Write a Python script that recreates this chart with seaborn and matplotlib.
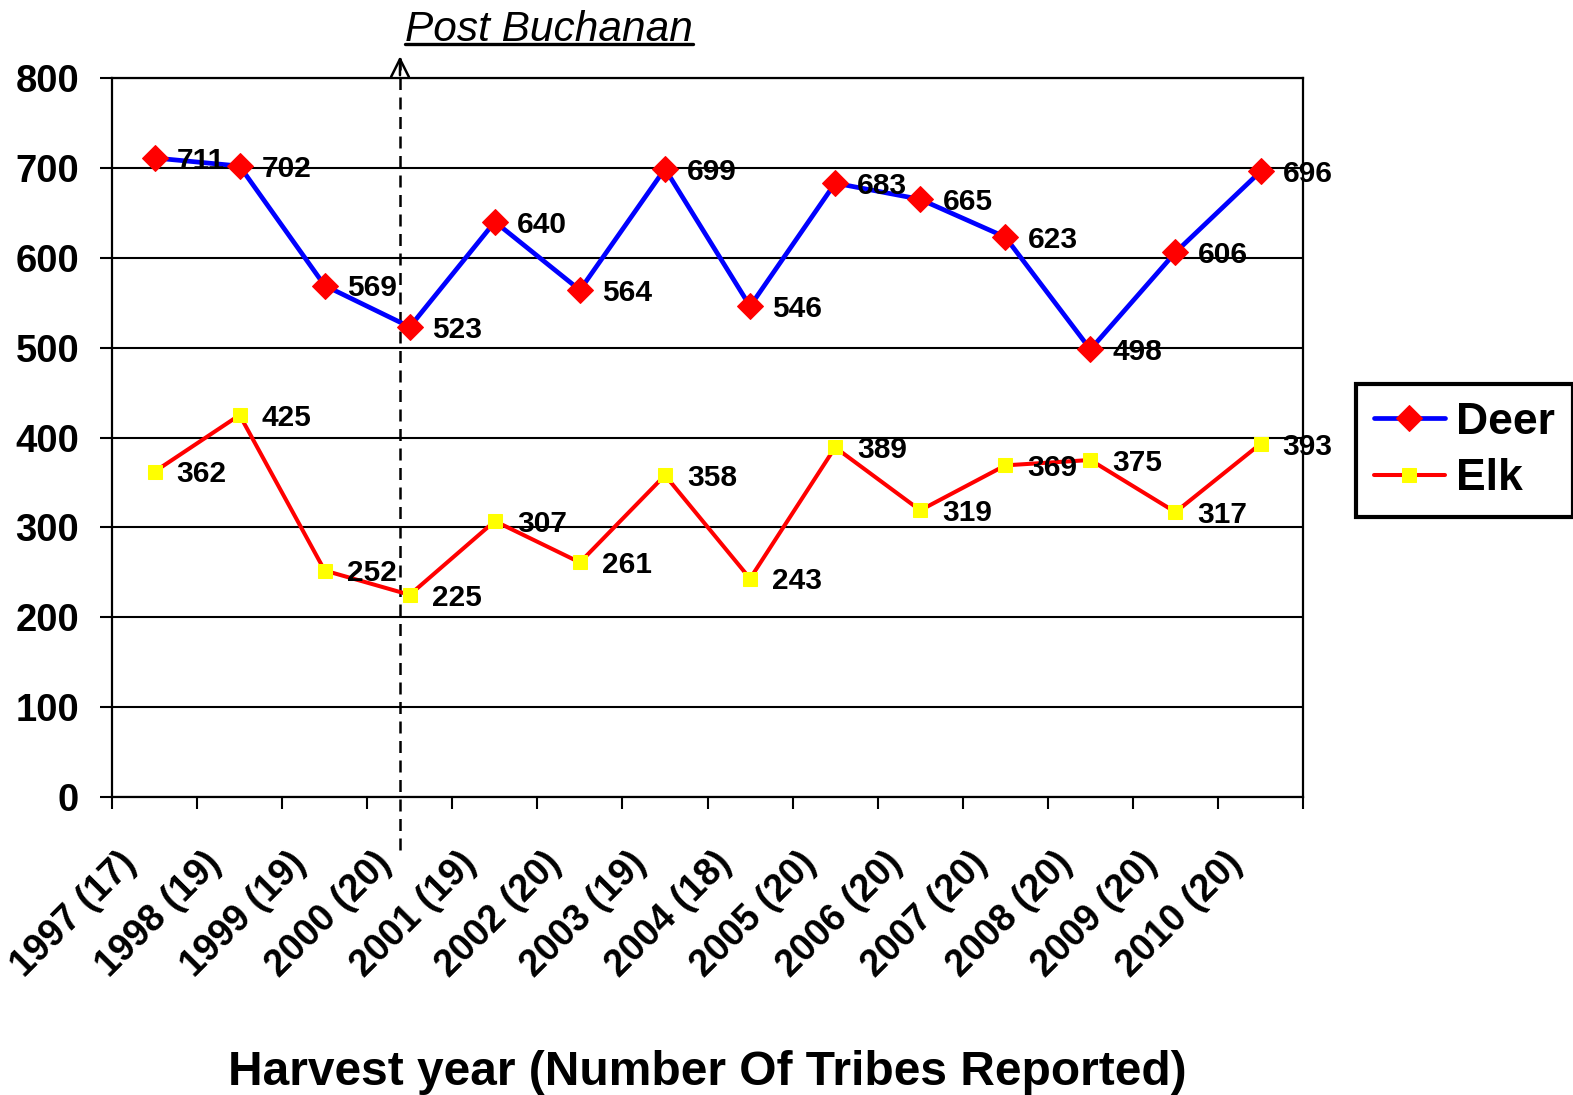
import numpy as np
import matplotlib
matplotlib.use("Agg")
import matplotlib.pyplot as plt
import matplotlib.transforms as mtransforms
from matplotlib.lines import Line2D
import seaborn as sns

# data
years = ['1997 (17)', '1998 (19)', '1999 (19)', '2000 (20)', '2001 (19)', '2002 (20)', '2003 (19)',
         '2004 (18)', '2005 (20)', '2006 (20)', '2007 (20)', '2008 (20)', '2009 (20)', '2010 (20)']
deer = [711, 702, 569, 523, 640, 564, 699, 546, 683, 665, 623, 498, 606, 696]
elk = [362, 425, 252, 225, 307, 261, 358, 243, 389, 319, 369, 375, 317, 393]
y_ticks = [0, 100, 200, 300, 400, 500, 600, 700, 800]
buchanan_x = 2.885  # dashed marker between 1999 and 2000 points
buchanan_text = 'Post Buchanan'
x_title = 'Harvest year (Number Of Tribes Reported)'

sns.set_style('white')
plt.rcParams['font.family'] = ['Liberation Sans', 'DejaVu Sans']
plt.rcParams['font.weight'] = 'bold'
for k in ['text.color', 'axes.labelcolor', 'xtick.color', 'ytick.color']:
    plt.rcParams[k] = 'black'

fig = plt.figure(figsize=(15.73, 10.95), dpi=100)
ax = fig.add_axes([0.0712, 0.2721, 0.7572, 0.6567])

x = np.arange(len(years))
sns.lineplot(x=x, y=deer, ax=ax, color='#0000ff', lw=3.4, marker='D', markersize=13.5,
             markerfacecolor='#ff0000', markeredgecolor='#ff0000', label='Deer', zorder=4)
sns.lineplot(x=x, y=elk, ax=ax, color='#ff0000', lw=2.9, marker='s', markersize=10,
             markerfacecolor='#ffff00', markeredgecolor='#ffff00', label='Elk', zorder=4)

# data labels to the right of each point
for xi, v in zip(x, deer):
    ax.annotate(str(v), (xi, v), xytext=(16, -2), textcoords='offset points',
                ha='left', va='center', fontsize=21.5, fontweight='bold', zorder=5)
for xi, v in zip(x, elk):
    ax.annotate(str(v), (xi, v), xytext=(16, -2), textcoords='offset points',
                ha='left', va='center', fontsize=21.5, fontweight='bold', zorder=5)

ax.set_xlim(-0.5, len(years) - 0.5)
ax.set_ylim(0, 800)
ax.set_yticks(y_ticks)
ax.set_yticklabels([str(t) for t in y_ticks], fontsize=27.5, fontweight='bold')
ax.yaxis.grid(True, color='black', lw=1.5)
ax.xaxis.grid(False)
ax.set_axisbelow(True)
for s in ax.spines.values():
    s.set_color('black')
    s.set_linewidth(1.6)

ax.tick_params(axis='y', direction='out', length=8.6, width=1.5, color='black', pad=15, left=True)
ax.set_xticks(x)
ax.set_xticks(np.arange(-0.5, len(years), 1), minor=True)
ax.tick_params(axis='x', which='major', length=0, pad=44)
ax.tick_params(axis='x', which='minor', direction='out', length=8.6, width=1.5, color='black', bottom=True)
ax.set_xticklabels(years, fontsize=27, fontweight='bold', rotation=45, ha='right',
                   va='center', rotation_mode='anchor')
shift = mtransforms.ScaledTranslation(-24 / 100, 0, fig.dpi_scale_trans)
for lab in ax.get_xticklabels():
    lab.set_transform(lab.get_transform() + shift)
ax.set_xlabel('')
ax.set_ylabel('')

# Post Buchanan marker
trans = mtransforms.blended_transform_factory(ax.transData, ax.transAxes)
ax.plot([buchanan_x, buchanan_x], [-0.074, 1.03], transform=trans, color='black', lw=1.8,
        ls=(0, (4.8, 3)), clip_on=False, zorder=3)
ax.annotate('', xy=(buchanan_x, 1.034), xytext=(buchanan_x, 1.0), xycoords=trans, textcoords=trans,
            arrowprops=dict(arrowstyle='->', lw=1.8, color='black', mutation_scale=32), annotation_clip=False)
t = fig.text(405 / 1573, 1 - 41 / 1095, buchanan_text, fontsize=30.5, fontstyle='italic',
             fontweight='normal', ha='left', va='baseline')
fig.canvas.draw()
bb = t.get_window_extent().transformed(fig.transFigure.inverted())
fig.add_artist(Line2D([bb.x0, bb.x1], [1 - 44 / 1095] * 2, transform=fig.transFigure,
                      color='black', lw=2.4))

fig.text(707 / 1573, 0.009, x_title, fontsize=34.5, fontweight='bold', ha='center', va='baseline')

leg = ax.legend(loc='upper left', bbox_to_anchor=(1356 / 1573, 1 - 384 / 1095),
                bbox_transform=fig.transFigure, borderaxespad=0, frameon=True, fancybox=False,
                edgecolor='black', handlelength=1.6, handletextpad=0.25,
                labelspacing=0.35, borderpad=0.4, prop={'weight': 'bold', 'size': 32})
leg.get_frame().set_linewidth(3)
leg.get_frame().set_alpha(1)

fig.savefig('out.png', dpi=100)
